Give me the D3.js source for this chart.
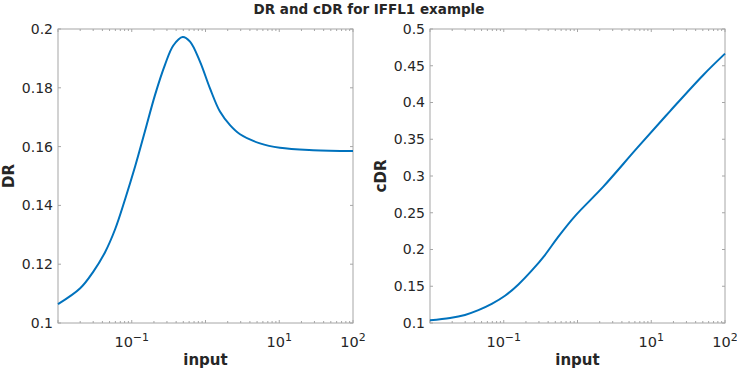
<!DOCTYPE html>
<html>
<head>
<meta charset="utf-8">
<script src="https://cdn.jsdelivr.net/npm/d3@7"></script>
<style>
  body { margin: 0; background: #fff; }
  svg { display: block; font-family: "DejaVu Sans", sans-serif; }
</style>
</head>
<body>
<svg width="737" height="372"></svg>
<script>
// values
const drInput = [0.01, 0.02, 0.030, 0.0433, 0.0593, 0.081, 0.111, 0.151, 0.207, 0.282, 0.366, 0.49,
                 0.617, 0.842, 1.15, 1.57, 2.15, 2.94, 5.48, 10.2, 28.8, 100];
const drValues = [0.1064, 0.1118, 0.1174, 0.1240, 0.1318, 0.1420, 0.1532, 0.1652, 0.1776, 0.1878, 0.1944, 0.1973,
                  0.1957, 0.1889, 0.1798, 0.1719, 0.1673, 0.1642, 0.1611, 0.1596, 0.1588, 0.1585];

const cdrInput = [0.01, 0.0187, 0.0298, 0.0453, 0.0687, 0.104, 0.158, 0.239, 0.362, 0.55, 0.925,
                  2.24, 6.36, 17.9, 50.8, 100];
const cdrValues = [0.1037, 0.1068, 0.1110, 0.1175, 0.1260, 0.1370, 0.1525, 0.1712, 0.1925, 0.2175, 0.2455,
                   0.2855, 0.3375, 0.3880, 0.4375, 0.4665];

const xDomain = [0.01, 100];
const xLabelTicks = [0.1, 10, 100];
const drTicks = [0.1, 0.12, 0.14, 0.16, 0.18, 0.2];
const cdrTicks = [0.1, 0.15, 0.2, 0.25, 0.3, 0.35, 0.4, 0.45, 0.5];

const svg = d3.select("svg");
const boxColor = "#a6a6a6";
const textColor = "#262626";
const lineColor = "#0072BD";

function drawPanel(left, right, top, bottom, xs, ys, yTicks, yLabel) {
  const x = d3.scaleLog().domain(xDomain).range([left, right]);
  const y = d3.scaleLinear().domain([yTicks[0], yTicks[yTicks.length - 1]]).range([bottom, top]);
  const g = svg.append("g");

  g.append("rect")
    .attr("x", left).attr("y", top)
    .attr("width", right - left).attr("height", bottom - top)
    .attr("fill", "#fff").attr("stroke", boxColor).attr("stroke-width", 1);

  const allTicks = x.ticks();
  const isMajor = d => Math.abs(Math.log10(d) - Math.round(Math.log10(d))) < 1e-9;

  // x ticks, inside, bottom and top
  allTicks.forEach(t => {
    const len = isMajor(t) ? 3 : 2;
    g.append("line").attr("x1", x(t)).attr("x2", x(t))
      .attr("y1", bottom).attr("y2", bottom - len).attr("stroke", boxColor);
    g.append("line").attr("x1", x(t)).attr("x2", x(t))
      .attr("y1", top).attr("y2", top + len).attr("stroke", boxColor);
  });

  // y ticks, inside, left and right
  yTicks.forEach(t => {
    g.append("line").attr("x1", left).attr("x2", left + 3)
      .attr("y1", y(t)).attr("y2", y(t)).attr("stroke", boxColor);
    g.append("line").attr("x1", right).attr("x2", right - 3)
      .attr("y1", y(t)).attr("y2", y(t)).attr("stroke", boxColor);
    g.append("text")
      .attr("x", left - 5).attr("y", y(t))
      .attr("dy", "0.35em")
      .attr("text-anchor", "end")
      .attr("font-size", 14)
      .attr("fill", textColor)
      .text(String(+t.toFixed(2)));
  });

  // x tick labels as 10^n
  xLabelTicks.forEach(t => {
    const txt = g.append("text")
      .attr("x", x(t)).attr("y", bottom + 24)
      .attr("text-anchor", "middle")
      .attr("font-size", 14.5)
      .attr("fill", textColor);
    txt.append("tspan").text("10");
    txt.append("tspan").attr("font-size", 11).attr("dy", -6)
      .text(String(Math.round(Math.log10(t))).replace("-", "\u2212"));
  });

  const line = d3.line()
    .x((d, i) => x(xs[i]))
    .y(d => y(d))
    .curve(d3.curveCatmullRom.alpha(0.5));

  g.append("path")
    .attr("d", line(ys))
    .attr("fill", "none")
    .attr("stroke", lineColor)
    .attr("stroke-width", 2);

  g.append("text")
    .attr("transform", `translate(${left - 44},${(top + bottom) / 2}) rotate(-90)`)
    .attr("text-anchor", "middle")
    .attr("font-size", 15)
    .attr("font-weight", "bold")
    .attr("fill", textColor)
    .text(yLabel);

  g.append("text")
    .attr("x", (left + right) / 2).attr("y", bottom + 42)
    .attr("text-anchor", "middle")
    .attr("font-size", 15)
    .attr("font-weight", "bold")
    .attr("fill", textColor)
    .text("input");
}

drawPanel(58, 353, 29, 323, drInput, drValues, drTicks, "DR");
drawPanel(430, 725, 29, 323, cdrInput, cdrValues, cdrTicks, "cDR");

svg.append("text")
  .attr("x", 369).attr("y", 14)
  .attr("text-anchor", "middle")
  .attr("font-size", 13.5)
  .attr("font-weight", "bold")
  .attr("fill", textColor)
  .text("DR and cDR for IFFL1 example");
</script>
</body>
</html>
